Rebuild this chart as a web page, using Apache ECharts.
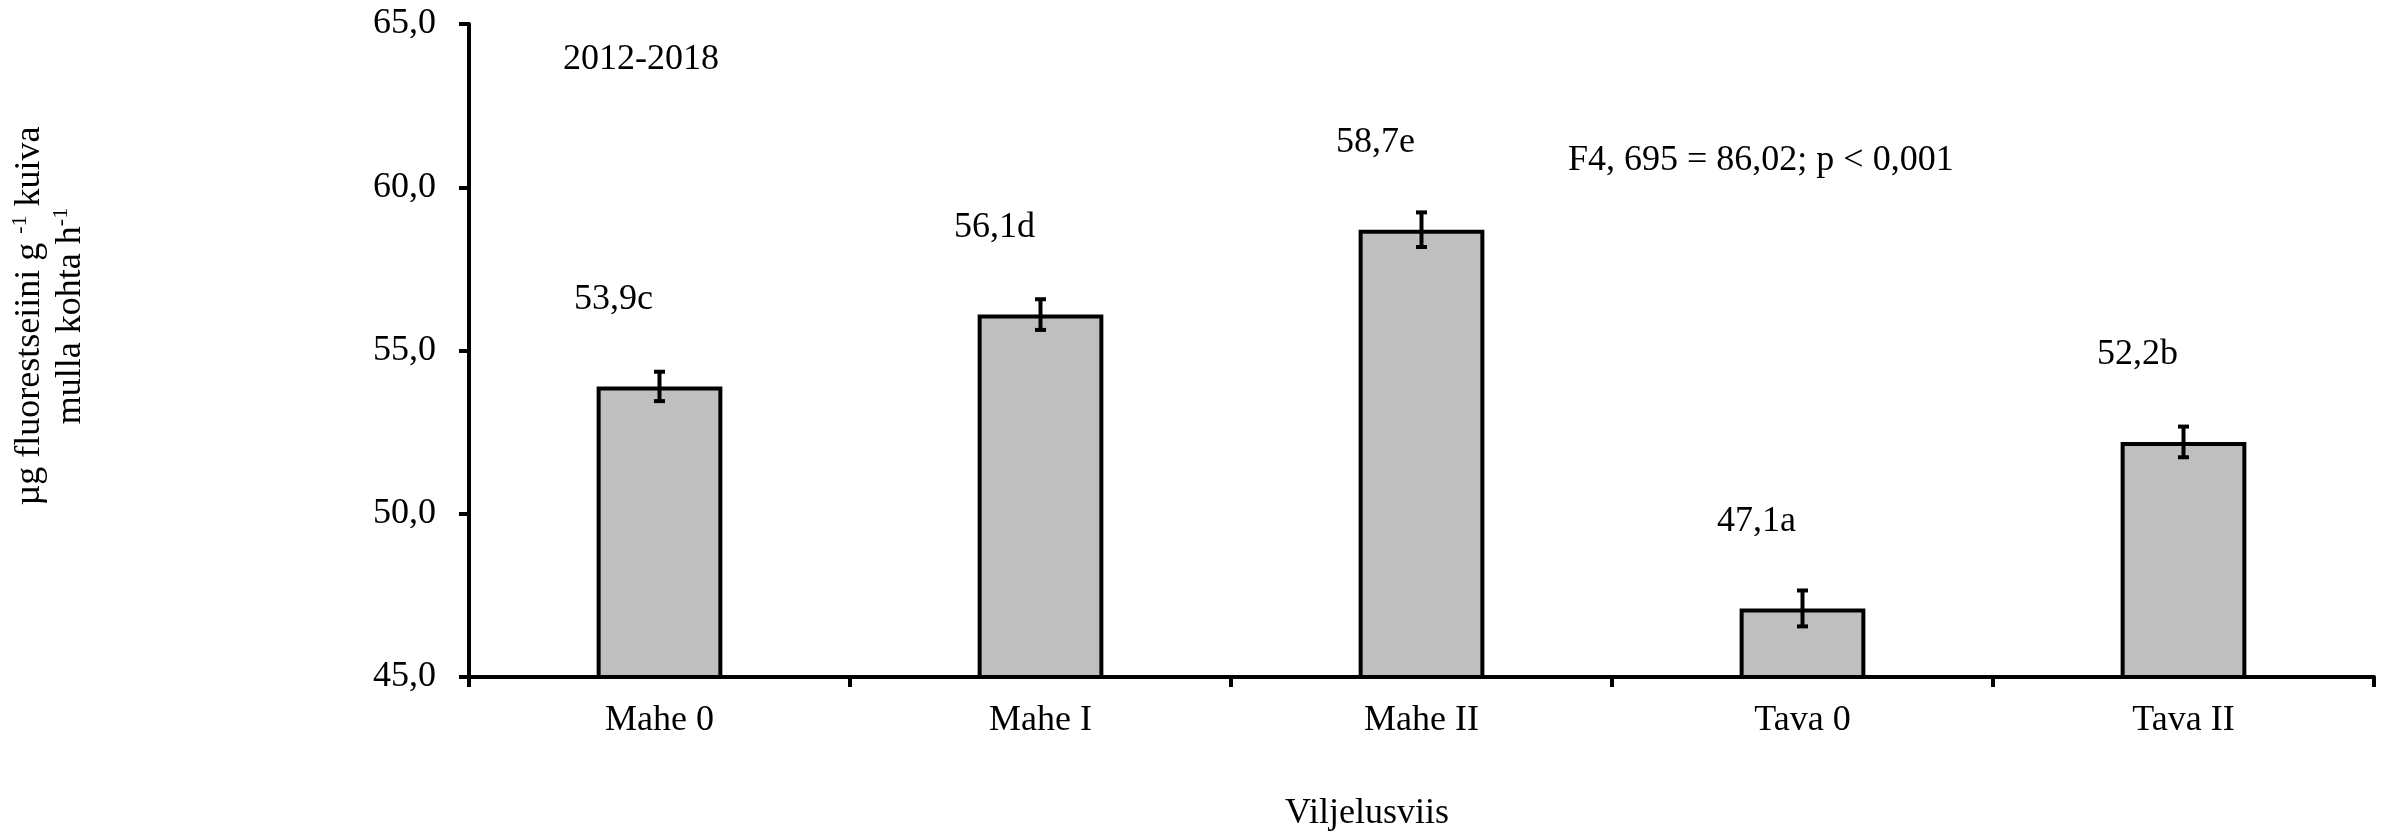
<!DOCTYPE html>
<html>
<head>
<meta charset="utf-8">
<script src="https://cdn.jsdelivr.net/npm/echarts@6/dist/echarts.min.js"></script>
<style>
  html, body { margin: 0; padding: 0; background: #fff; }
  #main { width: 2387px; height: 838px; }
</style>
</head>
<body>
<div id="main"></div>
<script>
// andmed
var categories = ['Mahe 0', 'Mahe I', 'Mahe II', 'Tava 0', 'Tava II'];
var means = [53.9, 56.1, 58.7, 47.1, 52.2];
var stdErr = [0.45, 0.47, 0.53, 0.55, 0.47];
var letters = ['c', 'd', 'e', 'a', 'b'];
var yTicks = [45, 50, 55, 60, 65];

var font = 'Liberation Serif';

function comma(v) {
  return v.toFixed(1).replace('.', ',');
}

var errData = [];
for (var i = 0; i < means.length; i++) {
  errData.push([i, means[i], stdErr[i]]);
}

var chart = echarts.init(document.getElementById('main'));

var option = {
  animation: false,
  backgroundColor: '#fff',
  grid: { left: 469, right: 13, top: 24, bottom: 161 },
  xAxis: {
    type: 'category',
    data: categories,
    boundaryGap: true,
    axisLine: { lineStyle: { color: '#000', width: 4 } },
    axisTick: { show: true, length: 10, lineStyle: { color: '#000', width: 4 } },
    axisLabel: { color: '#000', fontFamily: font, fontSize: 36, margin: 26 }
  },
  yAxis: {
    type: 'value',
    min: yTicks[0],
    max: yTicks[yTicks.length - 1],
    interval: 5,
    splitLine: { show: false },
    axisLine: { show: true, lineStyle: { color: '#000', width: 4 } },
    axisTick: { show: true, length: 10, lineStyle: { color: '#000', width: 4 } },
    axisLabel: {
      color: '#000', fontFamily: font, fontSize: 36, margin: 33,
      formatter: function (v) { return comma(v); }
    }
  },
  graphic: [
    {
      type: 'text', left: 563, top: 42,
      style: { text: '2012-2018', font: '36px "Liberation Serif"', fill: '#000' }
    },
    {
      type: 'text', left: 1568, top: 143,
      style: { text: 'F4, 695 = 86,02; p < 0,001', font: '36px "Liberation Serif"', fill: '#000' }
    },
    {
      type: 'text', x: 1367, y: 814,
      style: {
        text: 'Viljelusviis', font: '36px "Liberation Serif"', fill: '#000',
        align: 'center', verticalAlign: 'middle'
      }
    },
    {
      type: 'text', x: 50, y: 316, rotation: Math.PI / 2,
      style: {
        text: 'µg fluorestseiini g {s|-1} kuiva\nmulla kohta h{s|-1}',
        fontFamily: font, fontSize: 36, lineHeight: 41, fill: '#000',
        align: 'center', verticalAlign: 'middle',
        rich: {
          s: { fontFamily: font, fontSize: 22, lineHeight: 41, verticalAlign: 'top', fill: '#000' }
        }
      }
    }
  ],
  series: [
    {
      type: 'bar',
      data: means,
      barWidth: '33%',
      itemStyle: { color: '#bfbfbf', borderColor: '#000', borderWidth: 4 },
      label: {
        show: true,
        position: 'top',
        distance: 0,
        offset: [-46, -69],
        color: '#000',
        fontFamily: font,
        fontSize: 36,
        formatter: function (p) { return comma(p.value) + letters[p.dataIndex]; }
      }
    },
    {
      // veapiirid
      type: 'custom',
      data: errData,
      z: 5,
      renderItem: function (params, api) {
        var x = api.value(0);
        var m = api.value(1);
        var e = api.value(2);
        var hi = api.coord([x, m + e]);
        var lo = api.coord([x, m - e]);
        var w = 5.5;
        var st = { stroke: '#000', lineWidth: 4 };
        return {
          type: 'group',
          children: [
            { type: 'line', shape: { x1: hi[0], y1: hi[1], x2: lo[0], y2: lo[1] }, style: st },
            { type: 'line', shape: { x1: hi[0] - w, y1: hi[1], x2: hi[0] + w, y2: hi[1] }, style: st },
            { type: 'line', shape: { x1: lo[0] - w, y1: lo[1], x2: lo[0] + w, y2: lo[1] }, style: st }
          ]
        };
      }
    }
  ]
};

chart.setOption(option);
</script>
</body>
</html>
